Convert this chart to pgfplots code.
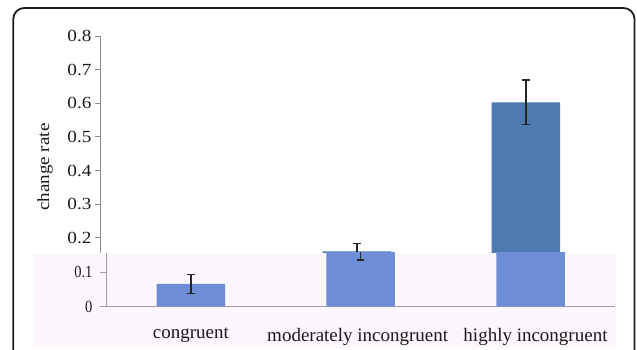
\documentclass[border=0pt]{standalone}
\usepackage{graphicx}
\usepackage{fontspec}
\setmainfont{Liberation Serif}
\usepackage{pgfplots}
\pgfplotsset{compat=1.18}

\definecolor{barDark}{HTML}{4E7AB2}
\definecolor{barLight}{HTML}{6D8ED6}
\definecolor{band}{HTML}{FDF6FD}
\definecolor{errc}{HTML}{262626}
\definecolor{upperAxis}{HTML}{8C8C8C}
\definecolor{lowerAxis}{HTML}{A39AA8}
\definecolor{frameC}{HTML}{1E1E1E}
\definecolor{txt}{HTML}{1A1A1A}

% mean change rate and its error for each condition
% congruent: 0.066 +- 0.028
% moderately incongruent: 0.160 +- 0.024
% highly incongruent: 0.603 +- 0.066

\pgfplotsset{
  barstyle/.style={
    ybar, bar width=68.5pt, draw=none,
    error bars/.cd, y dir=both, y explicit,
    error bar style={line width=1.4pt, color=errc},
    error mark options={rotate=90, mark size=3.6pt, line width=1.4pt, color=errc},
    /pgfplots/.cd
  }
}

\begin{document}
\begin{tikzpicture}[x=1pt, y=1pt]
\useasboundingbox (0,0) rectangle (637,350);
\clip (0,0) rectangle (637,350);

% shaded lower band
\fill[band] (33,2) rectangle (616,96);

% upper part of the broken axis (congruent bar does not reach it)
\begin{axis}[
  at={(100pt,97pt)}, anchor=south west,
  scale only axis, width=513.8pt, height=217pt,
  xmin=-0.52, xmax=2.52, ymin=0.155, ymax=0.8,
  axis x line=none, axis y line=left,
  y axis line style={-, draw=upperAxis, line width=0.9pt},
  ytick={0.2,0.3,0.4,0.5,0.6,0.7,0.8},
  tick align=outside, major tick length=5pt,
  ytick style={draw=upperAxis, line width=0.9pt},
  /pgf/number format/assume math mode=true,
  yticklabel={\scalebox{1.13}[1]{\pgfmathprintnumber[fixed,precision=1]{\tick}}},
  yticklabel style={font=\fontsize{17}{20}\selectfont, text=txt},
  ylabel={\scalebox{1.12}[1]{change rate}},
  ylabel style={at={(rel axis cs:-0.107,0.396)}, anchor=center,
    font=\fontsize{17}{20}\selectfont, text=txt},
]
\addplot[fill=barDark, barstyle] coordinates {
  (1,0.160) +- (0,0.024)
  (2,0.603) +- (0,0.066)
};
\end{axis}

% lower part of the broken axis
\begin{axis}[
  at={(106pt,43.3pt)}, anchor=south west,
  scale only axis, width=509.4pt, height=54pt,
  xmin=-0.5, xmax=2.5, ymin=0, ymax=0.157,
  axis x line=bottom, axis y line=left,
  axis line style={-, draw=lowerAxis, line width=1pt},
  xtick={0,1,2},
  xticklabels={congruent, {moderately incongruent\hspace*{6pt}}, {\hspace*{10pt}highly incongruent}},
  xtick style={draw=none},
  xticklabel style={font=\fontsize{19}{22}\selectfont, text=txt, yshift=-12pt},
  ytick={0,0.1},
  tick align=outside, major tick length=6pt,
  ytick style={draw=lowerAxis, line width=1pt},
  /pgf/number format/assume math mode=true,
  yticklabel={\scalebox{0.85}[1]{\pgfmathprintnumber[fixed,precision=1]{\tick}}},
  yticklabel style={font=\fontsize{17}{20}\selectfont, text=txt, xshift=-4pt},
]
\addplot[fill=barLight, barstyle] coordinates {
  (0,0.066) +- (0,0.028)
  (1,0.160) +- (0,0.024)
  (2,0.603) +- (0,0.066)
};
\end{axis}

% frame around the figure
\draw[line width=1.8pt, frameC, rounded corners=11pt] (13.3,-20) rectangle (634.5,342);
\end{tikzpicture}
\end{document}
